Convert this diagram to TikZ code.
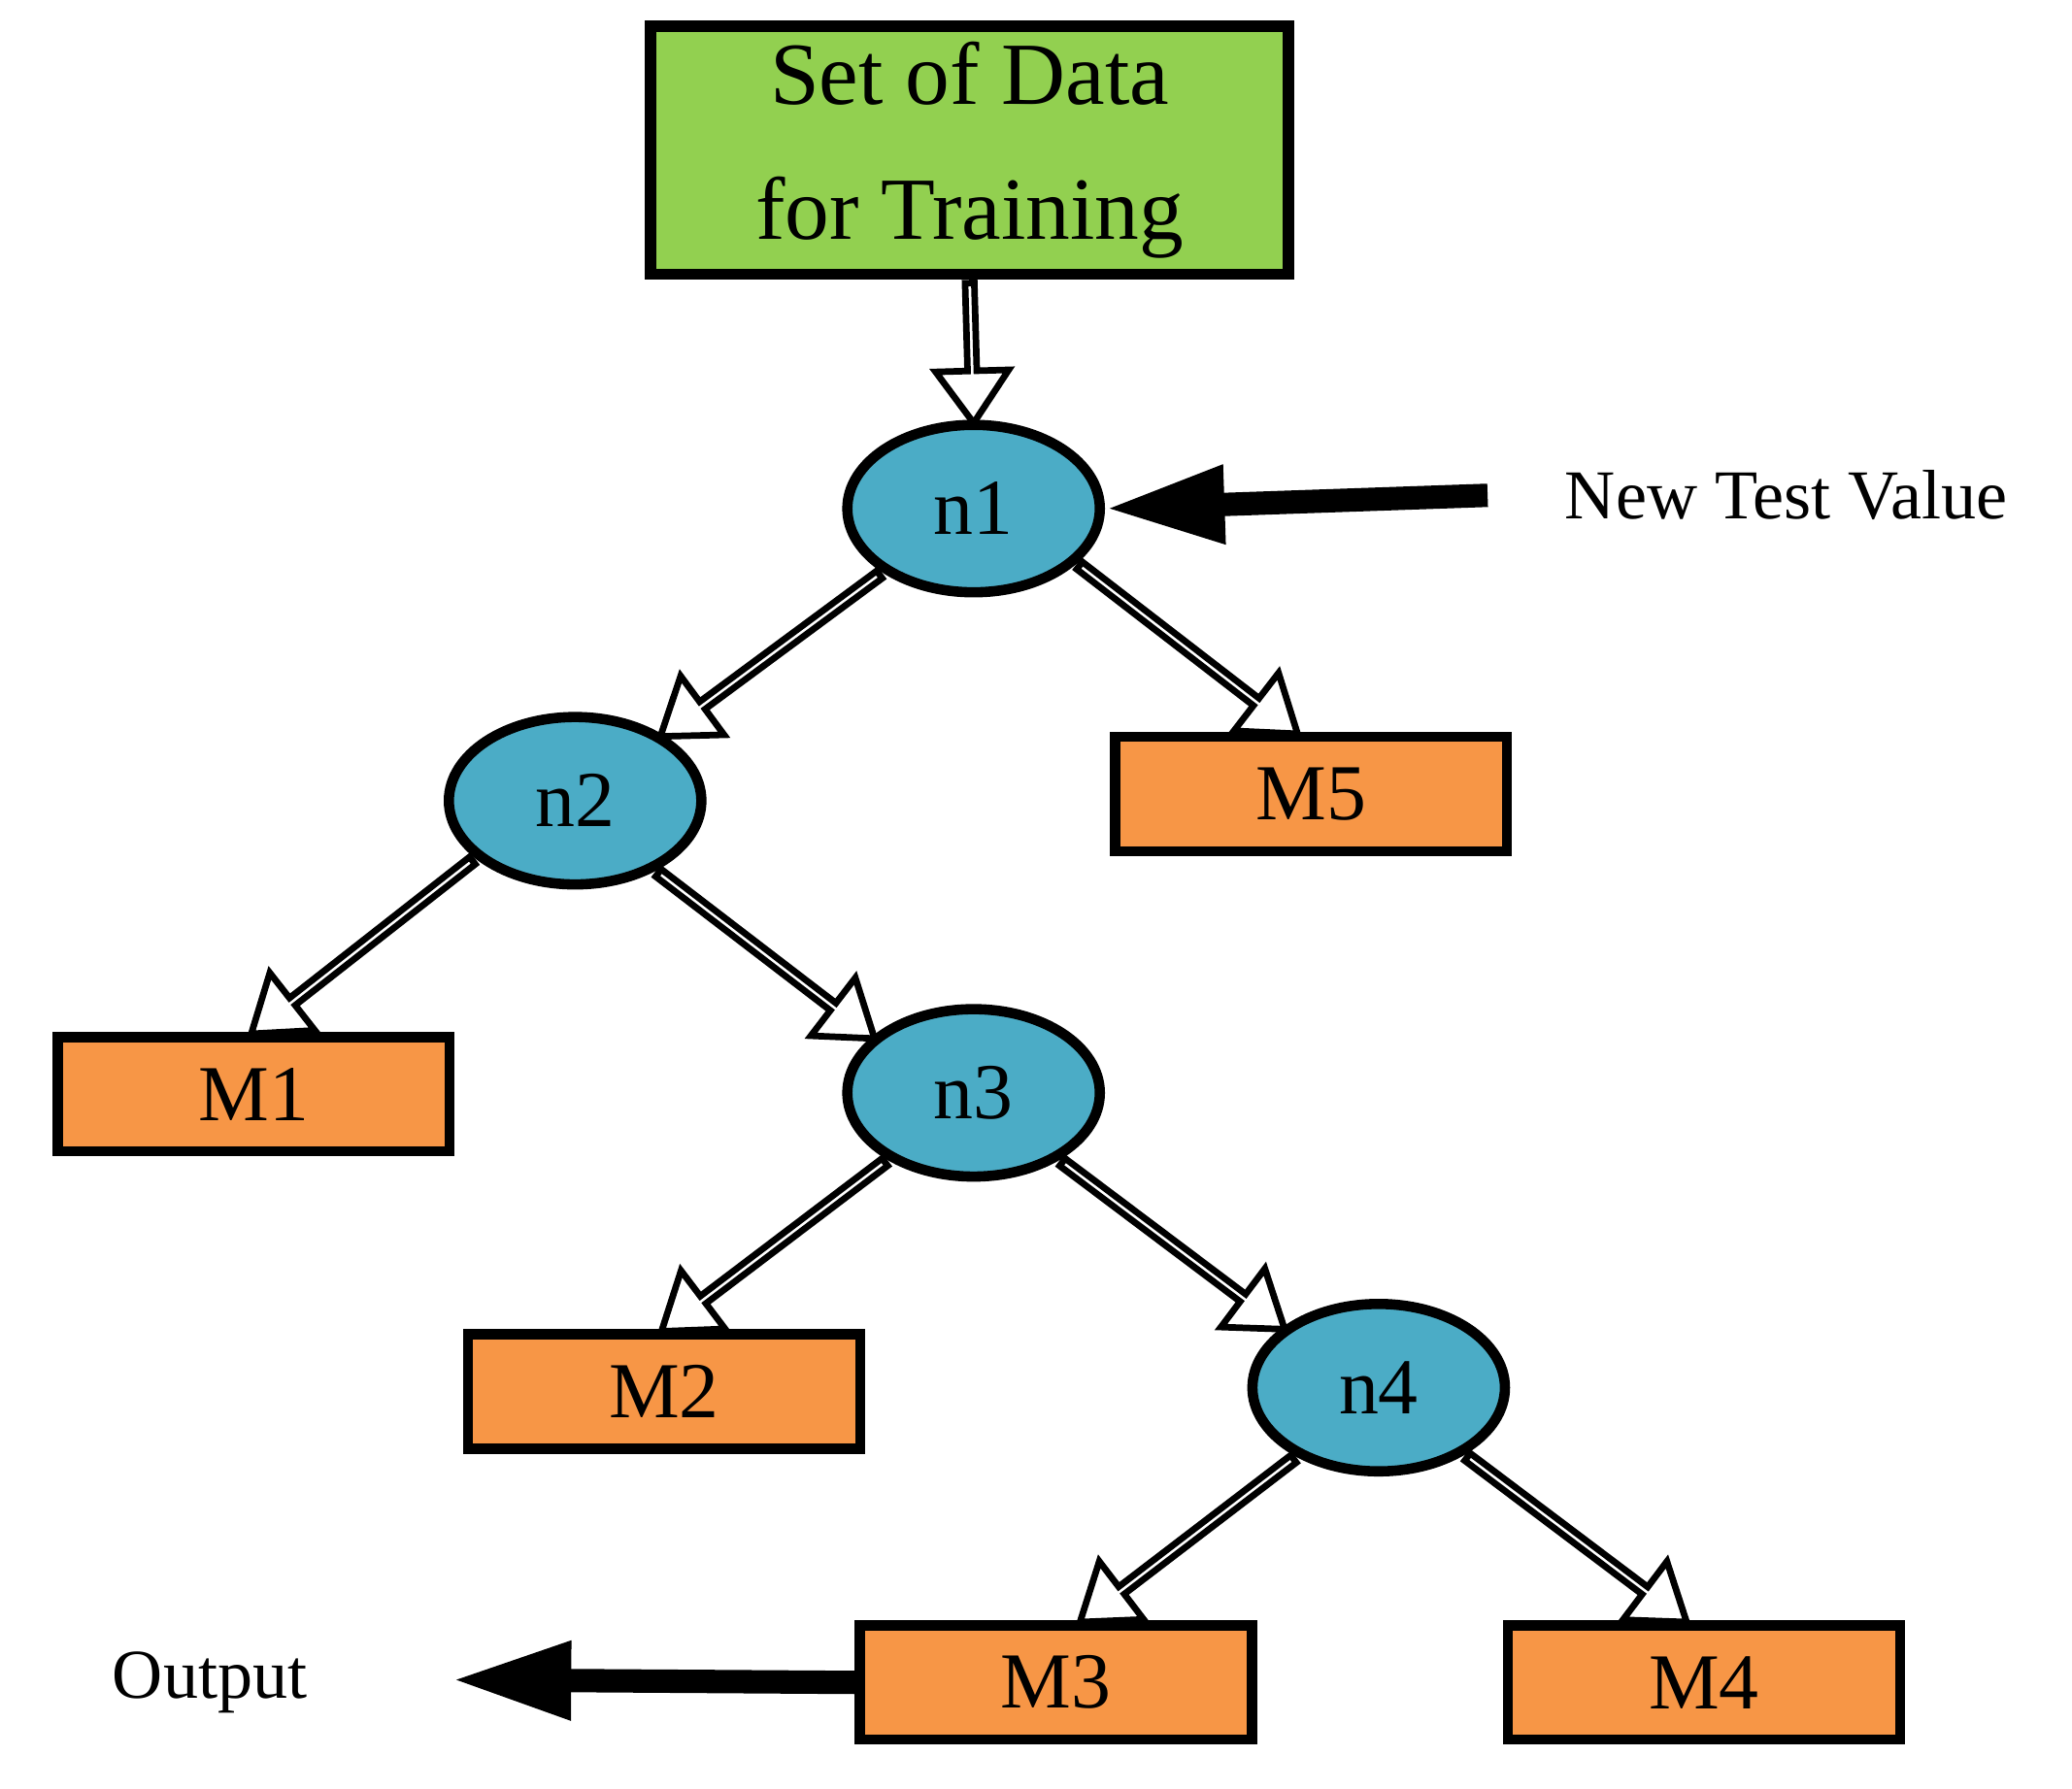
\documentclass[tikz,border=0pt]{standalone}
\usepackage{fontspec}
\setmainfont{Liberation Serif}
\usetikzlibrary{shapes.geometric,shapes.arrows,calc,arrows.meta}
\begin{document}
\begin{tikzpicture}[x=0.01cm,y=-0.01cm,
  box/.style={draw,line width=2.2pt,rectangle,minimum width=2.95cm,minimum height=0.86cm,fill=orange1,font=\fontsize{17}{20}\selectfont},
  nd/.style={draw,line width=2.2pt,ellipse,minimum width=1.9cm,minimum height=1.26cm,fill=teal1,font=\fontsize{17}{20}\selectfont},
  harrow/.style={single arrow,draw,fill=white,line width=1.4pt,inner sep=0pt,minimum width=0.55cm,single arrow head extend=0.17cm,single arrow head indent=0pt,single arrow tip angle=70},
  bigarrow/.style={line width=5pt,-{Triangle[length=0.9cm,width=0.55cm]}},
  lbl/.style={font=\fontsize{15}{18}\selectfont}]
\definecolor{orange1}{HTML}{F79646}
\definecolor{teal1}{HTML}{4BACC6}
\definecolor{green1}{HTML}{92D050}
\newcommand\harr[2]{\path let \p1=($(#2)-(#1)$), \n1={atan2(\y1,\x1)}, \n2={veclen(\x1,\y1)} in node[harrow,minimum height=\n2,rotate=\n1,anchor=center] at ($(#1)!0.5!(#2)$) {};}
\useasboundingbox (0,0) rectangle (1560,1347);
\node[draw,line width=2.4pt,fill=green1,minimum width=4.8cm,minimum height=1.62cm,align=center,font=\fontsize{19}{29}\selectfont] (top) at (730,113) {Set of Data\\for Training};
\node[nd] (n1) at (733,383) {n1};
\node[nd] (n2) at (433,603) {n2};
\node[nd] (n3) at (733,823) {n3};
\node[nd] (n4) at (1038,1045) {n4};
\node[box] (M5) at (987,598) {M5};
\node[box] (M1) at (191,824) {M1};
\node[box] (M2) at (500,1048) {M2};
\node[box] (M3) at (795,1267) {M3};
\node[box] (M4) at (1283,1267) {M4};
\node[lbl] (ntv) at (1345,373) {New Test Value};
\node[lbl] (out) at (158,1267) {Output};
\coordinate (ntvs) at (1120,373);
\coordinate (oute) at (340,1265);
\coordinate (a1) at ([xshift=-0.12cm]M5.north);
\coordinate (a2) at ([xshift=0.2cm]M3.north);
\coordinate (a3) at ([xshift=-0.15cm]M4.north);
\harr{top.south}{n1.north}
\harr{n1.215}{n2.37}
\harr{n1.332}{a1}
\harr{n2.210}{M1.north}
\harr{n2.319}{n3.151}
\harr{n3.218}{M2.north}
\harr{n3.322}{n4.148}
\harr{n4.220}{a2}
\harr{n4.322}{a3}
\draw[bigarrow] (ntvs) -- (n1.east);
\draw[bigarrow] (M3.west) -- (oute);
\end{tikzpicture}
\end{document}
